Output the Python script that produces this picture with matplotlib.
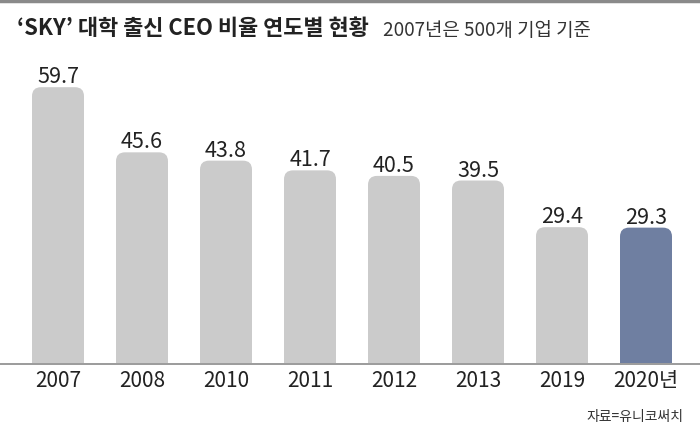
import matplotlib
matplotlib.use("Agg")
import matplotlib.pyplot as plt
from matplotlib.patches import FancyBboxPatch
from matplotlib.lines import Line2D

plt.rcParams['font.family'] = ['Noto Sans CJK KR', 'DejaVu Sans']

# data
years = ['2007', '2008', '2010', '2011', '2012', '2013', '2019', '2020년']
ratios = [59.7, 45.6, 43.8, 41.7, 40.5, 39.5, 29.4, 29.3]
bar_colors = ['#cbcbcb'] * 7 + ['#6f7fa1']

W, H = 700, 427
px_x = 84      # pixels per bar slot
px_y = 4.62    # pixels per percent

fig = plt.figure(figsize=(W / 100, H / 100), dpi=100)

# axes: baseline at y=364px, top at y=60px
ax = fig.add_axes([0, (H - 364) / H, 1, (364 - 60) / H])
ax.set_xlim(-58 / px_x, (W - 58) / px_x)
ax.set_ylim(0, 304 / px_y)
ax.axis('off')

bw = 52 / px_x
r = 9 / px_x
for i, (v, c) in enumerate(zip(ratios, bar_colors)):
    # rounded top, bottom pushed below the baseline and clipped
    p = FancyBboxPatch((i - bw / 2, -10), bw, v + 10,
                       boxstyle=f"round,pad=0,rounding_size={r}",
                       mutation_aspect=px_x / px_y,
                       facecolor=c, edgecolor='none', clip_on=True)
    ax.add_patch(p)
    ax.text(i, v + 5 / px_y, f'{v}', ha='center', va='baseline',
            fontsize=15.5, color='#222222')

# baseline
fig.add_artist(Line2D([0, 1], [(H - 364.5) / H] * 2, color='#8a8a8a', lw=1.2))
# top rule
fig.add_artist(Line2D([0, 1], [(H - 1.5) / H] * 2, color='#8a8a8a', lw=2.5))

# year labels
for i, y in enumerate(years):
    ax.text(i, -23 / px_y, y, ha='center', va='baseline', fontsize=15,
            color='#222222', clip_on=False)

fig.text(17 / W, 1 - 35 / H, "‘SKY’ 대학 출신 CEO 비율 연도별 현황",
         fontsize=15.8, fontweight='bold', color='#222222',
         va='baseline', ha='left')
fig.text(383 / W, 1 - 36.5 / H, "2007년은 500개 기업 기준",
         fontsize=13.6, color='#333333', va='baseline', ha='left')
fig.text(683 / W, 1 - 421 / H, "자료=유니코써치",
         fontsize=10, color='#333333', va='baseline', ha='right')

fig.savefig('out.png', dpi=100)
